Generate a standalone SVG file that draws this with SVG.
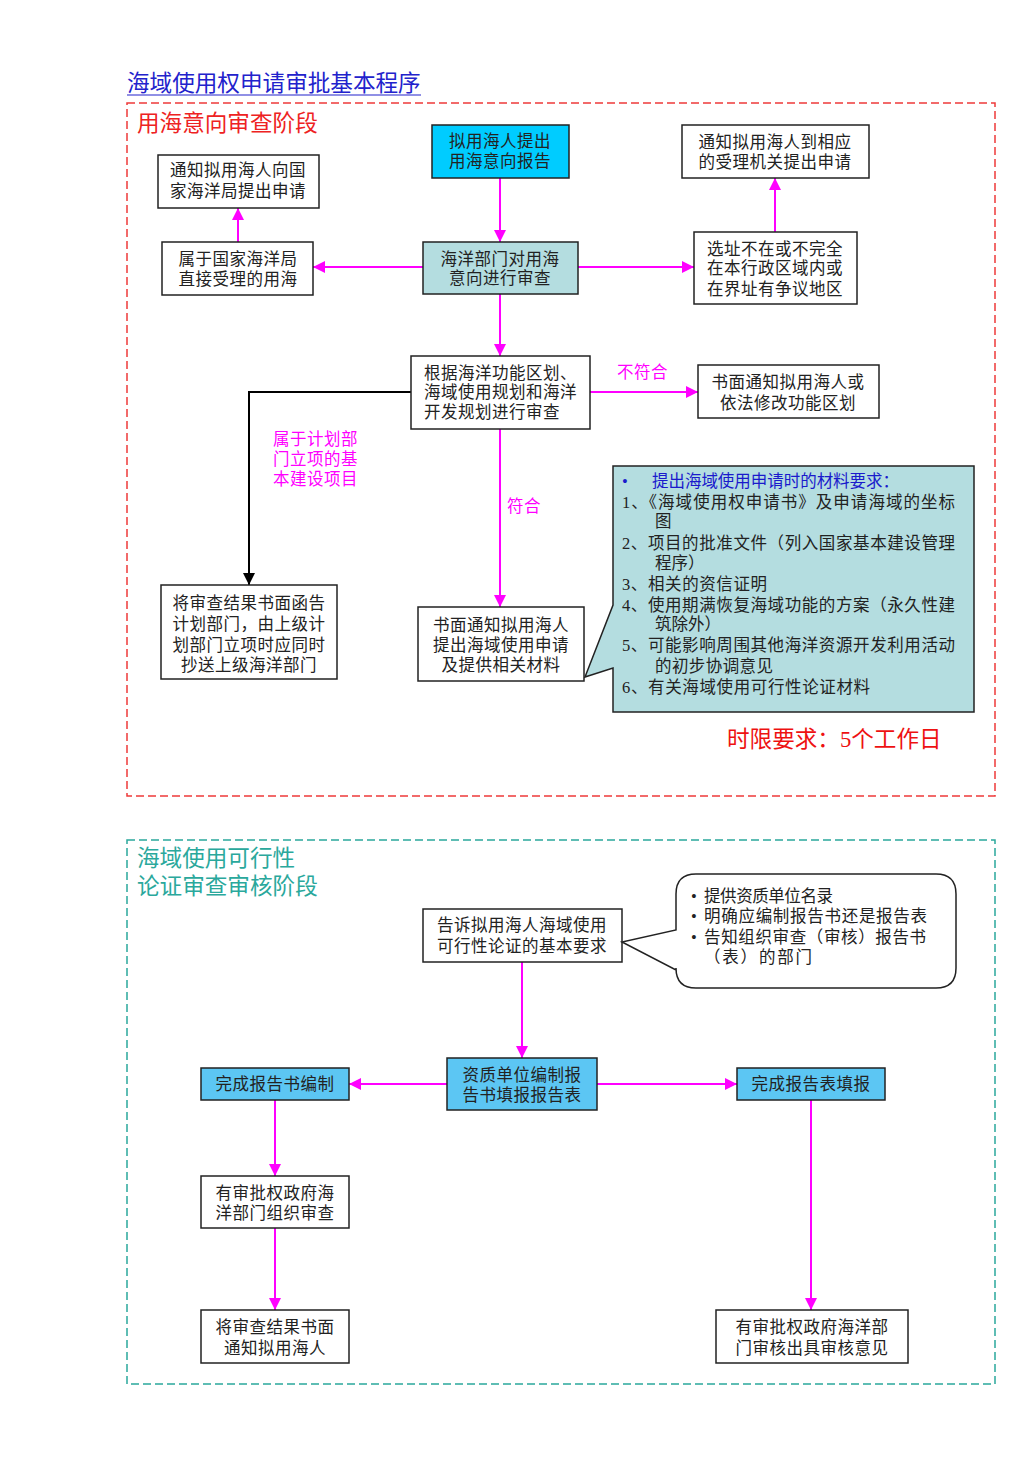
<svg xmlns="http://www.w3.org/2000/svg" width="1024" height="1479" viewBox="0 0 1024 1479">
<defs>
<style>
text{font-family:"Liberation Serif","Noto Sans CJK SC",serif;font-size:16.5px;letter-spacing:0.5px;fill:#222;dominant-baseline:central}
.c{text-anchor:middle}
.box{stroke:#222;stroke-width:1.5;fill:#fff}
.cyan{fill:#00ccff}
.teal{fill:#b4dde0}
.blue{fill:#5cc6f3}
.con{stroke:#ff00ff;stroke-width:2;fill:none;marker-end:url(#mh)}
.conk{stroke:#000;stroke-width:2;fill:none;marker-end:url(#kh)}
.lab{fill:#ff00ff}
.big{font-size:22.6px;letter-spacing:0}
.k{letter-spacing:0}
</style>
<marker id="mh" viewBox="0 0 10 10" refX="10" refY="5" markerWidth="6" markerHeight="6" orient="auto" markerUnits="strokeWidth"><path d="M0,0L10,5L0,10z" fill="#ff00ff"/></marker>
<marker id="kh" viewBox="0 0 10 10" refX="10" refY="5" markerWidth="6" markerHeight="6" orient="auto" markerUnits="strokeWidth"><path d="M0,0L10,5L0,10z" fill="#000"/></marker>
</defs>
<rect width="1024" height="1479" fill="#fff"/>

<g id="title">
<text x="127" y="83" class="big" style="fill:#2222cc">海域使用权申请审批基本程序</text>
<line x1="127" y1="95" x2="421" y2="95" stroke="#2222cc" stroke-width="1.2"/>
</g>

<g id="stage1">
<rect x="127" y="103" width="868" height="693" fill="none" stroke="#ee3a3a" stroke-width="1.5" stroke-dasharray="8,4"/>
<text x="137" y="123" class="big" style="fill:#ee2222">用海意向审查阶段</text>
<text x="727" y="739" class="big" style="fill:#ee1111">时限要求：5个工作日</text>
</g>

<g id="connectors">
<path class="con" d="M500,178V242"/>
<path class="con" d="M423,267H313"/>
<path class="con" d="M238,242V208"/>
<path class="con" d="M578,267H694"/>
<path class="con" d="M775,232V178"/>
<path class="con" d="M500,294V356"/>
<path class="con" d="M590,392H698"/>
<path class="conk" d="M411,392H249V585"/>
<path class="con" d="M500,429V607"/>
<path class="con" d="M522,962V1058"/>
<path class="con" d="M447,1084H349"/>
<path class="con" d="M597,1084H737"/>
<path class="con" d="M275,1100V1176"/>
<path class="con" d="M275,1228V1310"/>
<path class="con" d="M811,1100V1310"/>
<text x="617" y="372" class="lab">不符合</text>
<text x="507" y="506" class="lab">符合</text>
<text x="273" y="439" class="lab">属于计划部</text>
<text x="273" y="459" class="lab">门立项的基</text>
<text x="273" y="479" class="lab">本建设项目</text>
</g>

<g id="nA"><rect x="432" y="125" width="137" height="53" class="box cyan"/>
<text x="500" y="141" class="c">拟用海人提出</text><text x="500" y="161" class="c">用海意向报告</text></g>

<g id="nB"><rect x="423" y="242" width="155" height="52" class="box teal"/>
<text x="500" y="259" class="c">海洋部门对用海</text><text x="500" y="278" class="c">意向进行审查</text></g>

<g id="nC"><rect x="158" y="155" width="161" height="53" class="box"/>
<text x="238" y="170" class="c">通知拟用海人向国</text><text x="238" y="191" class="c">家海洋局提出申请</text></g>

<g id="nD"><rect x="162" y="242" width="151" height="53" class="box"/>
<text x="238" y="259" class="c">属于国家海洋局</text><text x="238" y="279" class="c">直接受理的用海</text></g>

<g id="nE"><rect x="682" y="125" width="187" height="53" class="box"/>
<text x="775" y="142" class="c">通知拟用海人到相应</text><text x="775" y="162" class="c">的受理机关提出申请</text></g>

<g id="nF"><rect x="694" y="232" width="163" height="72" class="box"/>
<text x="775" y="249" class="c">选址不在或不完全</text><text x="775" y="268" class="c">在本行政区域内或</text><text x="775" y="289" class="c">在界址有争议地区</text></g>

<g id="nG"><rect x="411" y="356" width="179" height="73" class="box"/>
<text x="424" y="373">根据海洋功能区划、</text><text x="424" y="392">海域使用规划和海洋</text><text x="424" y="412">开发规划进行审查</text></g>

<g id="nH"><rect x="698" y="365" width="181" height="53" class="box"/>
<text x="788" y="382" class="c">书面通知拟用海人或</text><text x="788" y="403" class="c">依法修改功能区划</text></g>

<g id="nI"><rect x="161" y="585" width="176" height="94" class="box"/>
<text x="249" y="603" class="c">将审查结果书面函告</text><text x="249" y="624" class="c">计划部门，由上级计</text><text x="249" y="645" class="c">划部门立项时应同时</text><text x="249" y="665" class="c">抄送上级海洋部门</text></g>

<g id="nJ"><rect x="418" y="607" width="166" height="74" class="box"/>
<text x="501" y="625" class="c">书面通知拟用海人</text><text x="501" y="645" class="c">提出海域使用申请</text><text x="501" y="665" class="c">及提供相关材料</text></g>

<g id="nK">
<path d="M613,466H974V712H613V668L585,677L613,605Z" class="box teal"/>
<text x="622" y="481" class="k" style="fill:#1a1acc">•</text>
<text x="652" y="481" class="k" style="fill:#1a1acc" textLength="247" lengthAdjust="spacing">提出海域使用申请时的材料要求：</text>
<text x="622" y="502" class="k" textLength="333" lengthAdjust="spacing">1、《海域使用权申请书》及申请海域的坐标</text>
<text x="655" y="521" class="k">图</text>
<text x="622" y="543" class="k" textLength="333" lengthAdjust="spacing">2、项目的批准文件（列入国家基本建设管理</text>
<text x="655" y="563" class="k">程序）</text>
<text x="622" y="584" class="k" textLength="145" lengthAdjust="spacing">3、相关的资信证明</text>
<text x="622" y="605" class="k" textLength="333" lengthAdjust="spacing">4、使用期满恢复海域功能的方案（永久性建</text>
<text x="655" y="624" class="k">筑除外）</text>
<text x="622" y="645" class="k" textLength="333" lengthAdjust="spacing">5、可能影响周围其他海洋资源开发利用活动</text>
<text x="655" y="666" class="k" textLength="118" lengthAdjust="spacing">的初步协调意见</text>
<text x="622" y="687" class="k" textLength="248" lengthAdjust="spacing">6、有关海域使用可行性论证材料</text>
</g>

<g id="stage2">
<rect x="127" y="840" width="868" height="544" fill="none" stroke="#2aa89c" stroke-width="1.5" stroke-dasharray="8,4"/>
<text x="137" y="858" class="big" style="fill:#2aa89c">海域使用可行性</text>
<text x="137" y="886" class="big" style="fill:#2aa89c">论证审查审核阶段</text>
</g>

<g id="nL"><rect x="423" y="909" width="199" height="53" class="box"/>
<text x="522" y="925" class="c">告诉拟用海人海域使用</text><text x="522" y="946" class="c">可行性论证的基本要求</text></g>

<g id="nM">
<path d="M696,874H936Q956,874 956,894V968Q956,988 936,988H696Q676,988 676,968V970L622,942L676,930V894Q676,874 696,874Z" class="box"/>
<text x="691" y="896" class="k">•</text><text x="704" y="896" class="k" textLength="129" lengthAdjust="spacing">提供资质单位名录</text>
<text x="691" y="916" class="k">•</text><text x="704" y="916" class="k" textLength="223" lengthAdjust="spacing">明确应编制报告书还是报告表</text>
<text x="691" y="937" class="k">•</text><text x="704" y="937" class="k" textLength="222" lengthAdjust="spacing">告知组织审查（审核）报告书</text>
<text x="704" y="957" class="k" textLength="108" lengthAdjust="spacing">（表）的部门</text>
</g>

<g id="nN"><rect x="447" y="1058" width="150" height="52" class="box blue"/>
<text x="522" y="1075" class="c">资质单位编制报</text><text x="522" y="1095" class="c">告书填报报告表</text></g>

<g id="nO"><rect x="201" y="1068" width="148" height="32" class="box blue"/>
<text x="275" y="1084" class="c">完成报告书编制</text></g>

<g id="nP"><rect x="737" y="1068" width="148" height="32" class="box blue"/>
<text x="811" y="1084" class="c">完成报告表填报</text></g>

<g id="nQ"><rect x="201" y="1176" width="148" height="52" class="box"/>
<text x="275" y="1193" class="c">有审批权政府海</text><text x="275" y="1213" class="c">洋部门组织审查</text></g>

<g id="nR"><rect x="201" y="1310" width="148" height="53" class="box"/>
<text x="275" y="1327" class="c">将审查结果书面</text><text x="275" y="1348" class="c">通知拟用海人</text></g>

<g id="nS"><rect x="716" y="1310" width="192" height="53" class="box"/>
<text x="812" y="1327" class="c">有审批权政府海洋部</text><text x="812" y="1348" class="c">门审核出具审核意见</text></g>
</svg>
